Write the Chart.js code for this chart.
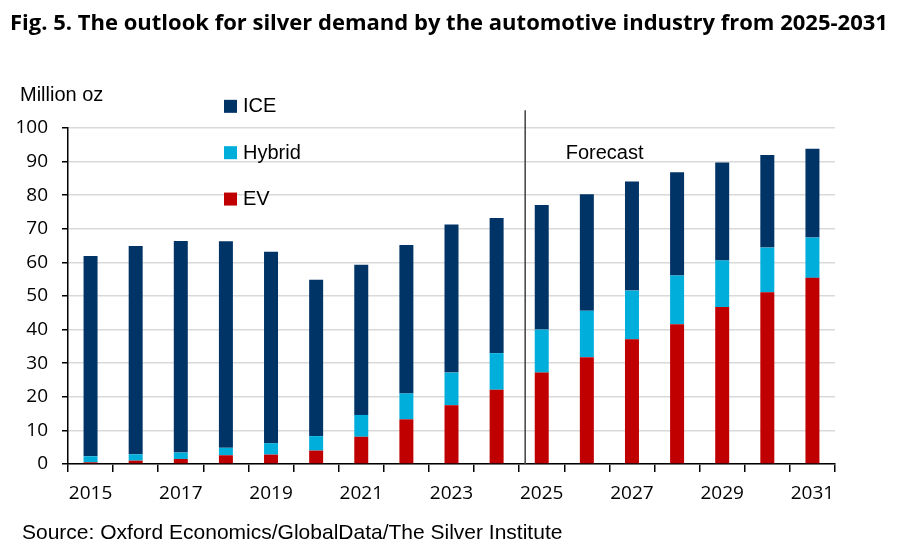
<!DOCTYPE html>
<html>
<head>
<meta charset="utf-8">
<script src="https://cdn.jsdelivr.net/npm/chart.js@4"></script>
<style>
  body { margin: 0; background: #fff; }
  #wrap { position: relative; width: 911px; height: 549px; }
  #title { position: absolute; left: 10px; top: 6px; font: bold 22px "Open Sans", sans-serif; color: #000; white-space: nowrap; }
  #source { position: absolute; left: 22px; top: 520px; font: 21px "Liberation Sans", Arial, sans-serif; color: #000; white-space: nowrap; }
  canvas { position: absolute; left: 0; top: 0; }
</style>
</head>
<body>
<div id="wrap">
  <canvas id="myChart" width="911" height="549"></canvas>
  <div id="title">Fig. 5. The outlook for silver demand by the automotive industry from 2025-2031</div>
  <div id="source">Source: Oxford Economics/GlobalData/The Silver Institute</div>
</div>
<script>
var years = ['2015', '2016', '2017', '2018', '2019', '2020', '2021', '2022', '2023',
             '2024', '2025', '2026', '2027', '2028', '2029', '2030', '2031'];
var evValues = [0.5, 1.0, 1.5, 2.6, 2.8, 4.0, 8.1, 13.3, 17.5, 22.1, 27.2, 31.8, 37.1, 41.6, 46.7, 51.1, 55.4];
var hybridValues = [1.8, 1.9, 1.9, 2.2, 3.4, 4.3, 6.5, 7.7, 9.7, 10.9, 12.8, 13.8, 14.5, 14.5, 13.9, 13.3, 12.0];
var iceValues = [59.6, 62.0, 63.0, 61.5, 57.0, 46.5, 44.7, 44.2, 44.1, 40.2, 37.1, 34.7, 32.5, 30.7, 29.1, 27.6, 26.4];
var yTicks = [0, 10, 20, 30, 40, 50, 60, 70, 80, 90, 100];
var forecastLabel = 'Forecast';
var yTitle = 'Million oz';

var ctx = document.getElementById('myChart');

// legend, forecast divider and labels drawn on the canvas
var extras = {
    id: 'extras',
    afterDatasetsDraw: function (chart) {
        var c = chart.ctx;
        var xs = chart.scales.x, ys = chart.scales.y;
        c.save();

        // forecast divider
        var lx = (xs.getPixelForValue(9) + xs.getPixelForValue(10)) / 2 + 6;
        c.strokeStyle = '#404040';
        c.lineWidth = 1.5;
        c.beginPath();
        c.moveTo(lx, ys.getPixelForValue(105.3));
        c.lineTo(lx, ys.getPixelForValue(0));
        c.stroke();

        c.fillStyle = '#000';
        c.font = '20px "Liberation Sans", Arial, sans-serif';
        c.textBaseline = 'middle';
        c.fillText(forecastLabel, xs.getPixelForValue(10) + 24, ys.getPixelForValue(92.3));

        // y title
        c.fillText(yTitle, 20, ys.getPixelForValue(109.6));

        // legend (reverse stack order)
        var ds = chart.data.datasets.slice().reverse();
        ds.forEach(function (d, i) {
            var y = ys.getPixelForValue(106.6 - i * 13.8);
            c.fillStyle = d.backgroundColor;
            c.fillRect(224, y - 6, 13, 13);
            c.fillStyle = '#000';
            c.fillText(d.label, 243, y + 1);
        });
        c.restore();
    }
};

var myChart = new Chart(ctx, {
    type: 'bar',
    data: {
        labels: years,
        datasets: [{
            label: 'EV',
            data: evValues,
            backgroundColor: '#c00000'
        }, {
            label: 'Hybrid',
            data: hybridValues,
            backgroundColor: '#00aedb'
        }, {
            label: 'ICE',
            data: iceValues,
            backgroundColor: '#003366'
        }]
    },
    options: {
        responsive: false,
        animation: false,
        events: [],
        layout: { padding: { left: 0, right: 76, top: 128, bottom: 45 } },
        datasets: { bar: { barPercentage: 0.31, categoryPercentage: 1 } },
        plugins: { legend: { display: false }, tooltip: { enabled: false } },
        scales: {
            x: {
                stacked: true,
                afterFit: function (s) { s.height = 40; },
                grid: { drawOnChartArea: false, drawTicks: true, tickLength: 8, color: '#000', lineWidth: 1.5 },
                border: { color: '#000', width: 1.5 },
                ticks: {
                    autoSkip: false,
                    maxRotation: 0,
                    padding: 10,
                    color: '#000',
                    font: { family: '"Open Sans", sans-serif', size: 19 },
                    callback: function (v, i) { return i % 2 === 0 ? years[i] : ''; }
                }
            },
            y: {
                stacked: true,
                min: 0,
                max: 100,
                afterFit: function (s) { s.width = 68; },
                afterBuildTicks: function (s) { s.ticks = yTicks.map(function (v) { return { value: v }; }); },
                grid: { color: '#d9d9d9', lineWidth: 1.5, tickColor: '#000', tickLength: 6 },
                border: { color: '#000', width: 1.5 },
                ticks: {
                    padding: 14,
                    color: '#000',
                    font: { family: '"Open Sans", sans-serif', size: 19 }
                }
            }
        }
    },
    plugins: [extras]
});
</script>
</body>
</html>
